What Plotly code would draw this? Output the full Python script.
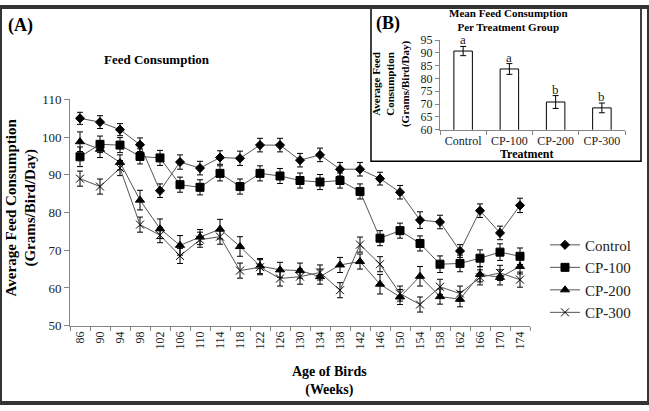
import plotly.graph_objects as go

FONT = "'Liberation Serif', 'Times New Roman', serif"

ages = [86, 90, 94, 98, 102, 106, 110, 114, 118, 122, 126, 130, 134, 138, 142, 146, 150, 154, 158, 162, 166, 170, 174]

control = [105.0, 104.0, 102.0, 98.0, 85.8, 93.4, 91.8, 94.6, 94.4, 97.9, 97.9, 93.9, 95.3, 91.5, 91.5, 89.0, 85.4, 78.0, 77.5, 69.8, 80.5, 74.6, 81.9]
cp100 = [94.8, 98.1, 97.9, 94.9, 94.5, 87.4, 86.7, 90.4, 86.9, 90.4, 89.7, 88.5, 88.1, 88.5, 85.6, 73.2, 75.2, 71.8, 66.3, 66.5, 67.9, 69.5, 68.4]
cp200 = [98.8, 96.8, 93.3, 83.3, 75.7, 71.3, 73.5, 75.6, 71.0, 65.8, 64.8, 64.6, 63.0, 66.1, 67.0, 61.0, 57.6, 63.1, 57.7, 57.0, 63.6, 62.8, 65.7]
cp300 = [89.0, 86.9, 91.8, 76.8, 74.0, 68.5, 72.8, 73.6, 64.6, 65.5, 62.5, 63.0, 64.1, 59.4, 71.5, 66.3, 58.5, 55.6, 60.3, 58.5, 62.8, 64.0, 62.2]

control_err = [1.6, 1.7, 1.6, 1.8, 1.8, 1.9, 1.8, 1.8, 1.9, 1.8, 1.8, 1.8, 1.8, 1.8, 1.8, 1.7, 1.8, 2.2, 1.8, 1.7, 1.8, 1.8, 1.9]
cp100_err = [2.6, 2.2, 2.0, 2.0, 2.0, 2.0, 2.0, 2.0, 2.0, 2.0, 2.0, 2.0, 2.0, 2.0, 2.0, 2.0, 2.0, 2.0, 2.2, 2.2, 2.2, 2.2, 2.2]
cp200_err = [2.6, 2.2, 2.0, 2.6, 2.6, 2.6, 2.0, 2.6, 2.6, 2.0, 2.0, 2.0, 2.0, 2.0, 2.0, 2.6, 2.0, 2.6, 2.0, 2.0, 2.0, 2.0, 2.0]
cp300_err = [2.0, 2.0, 2.0, 2.0, 2.0, 2.0, 2.0, 2.0, 2.0, 2.0, 2.0, 2.0, 2.0, 2.0, 2.0, 2.0, 2.0, 2.0, 2.0, 2.0, 2.0, 2.0, 2.0]

groups = ["Control", "CP-100", "CP-200", "CP-300"]
group_means = [90.7, 83.7, 70.8, 68.5]
group_err = [1.8, 2.1, 2.5, 1.9]
group_letters = ["a", "a", "b", "b"]

W, H = 649, 411


def px(x):
    return x / W


def py(y):
    return 1 - y / H


age_labels = [str(a) for a in ages]
series = [
    ("Control", control, control_err, "diamond", 7),
    ("CP-100", cp100, cp100_err, "square", 8),
    ("CP-200", cp200, cp200_err, "triangle-up", 8),
    ("CP-300", cp300, cp300_err, "x-thin-open", 8),
]

fig = go.Figure()
for name, vals, err, symbol, size in series:
    fig.add_trace(
        go.Scatter(
            x=age_labels,
            y=vals,
            name=name,
            mode="lines+markers",
            line={"color": "#555555", "width": 1},
            marker={"symbol": symbol, "size": size, "color": "black",
                    "line": {"color": "black", "width": 1}},
            error_y={"type": "data", "array": err, "color": "black", "thickness": 1, "width": 3},
        )
    )

fig.add_trace(
    go.Bar(
        x=groups,
        y=group_means,
        xaxis="x2",
        yaxis="y2",
        width=0.4,
        marker={"color": "white", "line": {"color": "black", "width": 1}},
        error_y={"type": "data", "array": group_err, "color": "black", "thickness": 1, "width": 3},
        showlegend=False,
    )
)

fig.update_layout(
    width=W,
    height=H,
    margin={"l": 0, "r": 0, "t": 0, "b": 0},
    paper_bgcolor="white",
    plot_bgcolor="white",
    font={"family": FONT, "color": "black"},
    showlegend=True,
    legend={
        "x": px(545), "y": py(230), "xanchor": "left", "yanchor": "top",
        "font": {"family": FONT, "size": 15, "color": "#222222"},
        "bgcolor": "rgba(0,0,0,0)", "tracegroupgap": 0, "itemwidth": 30,
    },
    xaxis={
        "domain": [px(70), px(530)],
        "anchor": "y",
        "type": "category",
        "tickson": "boundaries",
        "ticks": "outside",
        "ticklen": 4,
        "tickangle": -90,
        "tickfont": {"family": FONT, "size": 12, "color": "#222222"},
        "showline": True,
        "linecolor": "#868686",
        "tickcolor": "#868686",
        "showgrid": False,
        "range": [-0.5, 22.5],
    },
    yaxis={
        "domain": [py(330.7), py(96)],
        "anchor": "x",
        "range": [50, 110],
        "dtick": 10,
        "ticks": "outside",
        "ticklen": 5,
        "tickfont": {"family": FONT, "size": 13, "color": "#222222"},
        "showline": True,
        "linecolor": "#868686",
        "tickcolor": "#868686",
        "showgrid": False,
        "zeroline": False,
    },
    xaxis2={
        "domain": [px(440), px(625)],
        "anchor": "y2",
        "type": "category",
        "tickson": "boundaries",
        "ticks": "outside",
        "ticklen": 4,
        "tickangle": 0,
        "tickfont": {"family": FONT, "size": 12, "color": "#222222"},
        "showline": True,
        "linecolor": "#868686",
        "tickcolor": "#868686",
        "showgrid": False,
    },
    yaxis2={
        "domain": [py(127.3), py(34.3)],
        "anchor": "x2",
        "range": [60, 95],
        "dtick": 5,
        "ticks": "outside",
        "ticklen": 4,
        "tickfont": {"family": FONT, "size": 12, "color": "#222222"},
        "showline": True,
        "linecolor": "#868686",
        "tickcolor": "#868686",
        "showgrid": False,
        "zeroline": False,
    },
)

annotations = [
    {"text": "(A)", "x": px(6), "y": py(19), "xanchor": "left",
     "font": {"family": FONT, "size": 18, "weight": "bold"}},
    {"text": "Feed Consumption", "x": px(157), "y": py(55),
     "font": {"family": FONT, "size": 13, "weight": "bold"}},
    {"text": "Average Feed Consumption<br>(Grams/Bird/Day)", "x": px(21), "y": py(208),
     "textangle": -90, "font": {"family": FONT, "size": 15, "weight": "bold"}},
    {"text": "Age of Birds<br>(Weeks)", "x": px(329), "y": py(388),
     "font": {"family": FONT, "size": 14, "weight": "bold"}},
    {"text": "(B)", "x": px(374), "y": py(17), "xanchor": "left",
     "font": {"family": FONT, "size": 18, "weight": "bold"}},
    {"text": "Mean Feed Consumption<br>Per Treatment Group", "x": px(508), "y": py(14),
     "font": {"family": FONT, "size": 11, "weight": "bold"}},
    {"text": "Average Feed<br>Consumption<br>(Grams/Bird/Day)", "x": px(391), "y": py(80),
     "textangle": -90, "font": {"family": FONT, "size": 11, "weight": "bold"}},
    {"text": "Treatment", "x": px(527), "y": py(153),
     "font": {"family": FONT, "size": 12, "weight": "bold"}},
]
for a in annotations:
    a.update({"xref": "paper", "yref": "paper", "showarrow": False})
    a.setdefault("xanchor", "center")
    a.setdefault("yanchor", "middle")
    fig.add_annotation(**a)

for g, m, e, letter in zip(groups, group_means, group_err, group_letters):
    fig.add_annotation(
        x=g, y=m + e, xref="x2", yref="y2", text=letter, showarrow=False,
        yanchor="bottom", yshift=-3, font={"family": FONT, "size": 13, "color": "#222222"},
    )

fig.add_shape(type="rect", xref="paper", yref="paper", x0=px(371), x1=px(641), y0=py(160), y1=1,
              line={"color": "black", "width": 1.5}, fillcolor="rgba(0,0,0,0)", layer="below")
fig.add_shape(type="rect", xref="paper", yref="paper", x0=0, x1=1, y0=0, y1=1,
              line={"color": "#333333", "width": 4}, fillcolor="rgba(0,0,0,0)")

fig.write_html(
    "out.html",
    config={"displayModeBar": False},
    post_script="document.body.style.margin='0';",
)
